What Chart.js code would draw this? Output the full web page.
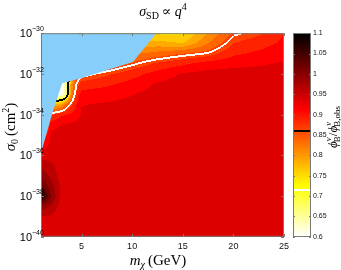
<!DOCTYPE html>
<html>
<head>
<meta charset="utf-8">
<script src="https://cdn.jsdelivr.net/npm/chart.js@4.4.1/dist/chart.umd.min.js"></script>
<style>
  body { margin: 0; background: #fff; }
  #wrap { width: 341px; height: 270px; }
</style>
</head>
<body>
<div id="wrap"><canvas id="plot" width="341" height="270"></canvas></div>
<script>
// grid of the ratio phi_B / phi_B,obs
const massGeV = [1, 2, 3, 3.5, 4, 4.5, 5, 7.5, 10, 12.5, 15, 17.5, 20, 22.5, 25];
const logSigma = [-30, -30.5, -31, -31.5, -32, -32.5, -33, -33.5, -34, -34.5, -35,
                  -35.5, -36, -36.5, -37, -37.5, -38, -38.5, -39, -39.5, -40];
const ratio = [
  [0.60, 0.60, 0.60, 0.62, 0.66, 0.70, 0.72, 0.74, 0.75, 0.745, 0.745, 0.80, 0.855, 0.87, 0.90],
  [0.60, 0.60, 0.60, 0.62, 0.68, 0.72, 0.75, 0.77, 0.78, 0.785, 0.775, 0.825, 0.875, 0.89, 0.905],
  [0.60, 0.60, 0.60, 0.62, 0.70, 0.75, 0.78, 0.80, 0.82, 0.835, 0.85, 0.862, 0.895, 0.905, 0.915],
  [0.60, 0.60, 0.60, 0.62, 0.73, 0.78, 0.81, 0.83, 0.855, 0.88, 0.895, 0.912, 0.918, 0.922, 0.928],
  [0.60, 0.60, 0.58, 0.64, 0.76, 0.84, 0.85, 0.87, 0.89, 0.91, 0.928, 0.933, 0.935, 0.935, 0.935],
  [0.60, 0.60, 0.58, 0.66, 0.80, 0.86, 0.885, 0.895, 0.91, 0.928, 0.935, 0.935, 0.935, 0.935, 0.935],
  [0.60, 0.60, 0.60, 0.66, 0.82, 0.88, 0.91, 0.915, 0.924, 0.935, 0.935, 0.935, 0.935, 0.935, 0.935],
  [0.62, 0.78, 0.79, 0.84, 0.87, 0.90, 0.924, 0.928, 0.932, 0.935, 0.935, 0.935, 0.935, 0.935, 0.935],
  [0.70, 0.87, 0.895, 0.90, 0.905, 0.915, 0.928, 0.935, 0.935, 0.935, 0.935, 0.935, 0.935, 0.935, 0.935],
  [0.80, 0.915, 0.925, 0.928, 0.93, 0.932, 0.935, 0.935, 0.935, 0.935, 0.935, 0.935, 0.935, 0.935, 0.935],
  [0.86, 0.93, 0.935, 0.935, 0.935, 0.935, 0.935, 0.935, 0.935, 0.935, 0.935, 0.935, 0.935, 0.935, 0.935],
  [0.905, 0.935, 0.935, 0.935, 0.935, 0.935, 0.935, 0.935, 0.935, 0.935, 0.935, 0.935, 0.935, 0.935, 0.935],
  [0.94, 0.936, 0.935, 0.935, 0.935, 0.935, 0.935, 0.935, 0.935, 0.935, 0.935, 0.935, 0.935, 0.935, 0.935],
  [0.966, 0.956, 0.935, 0.935, 0.935, 0.935, 0.935, 0.935, 0.935, 0.935, 0.935, 0.935, 0.935, 0.935, 0.935],
  [0.994, 0.968, 0.937, 0.935, 0.935, 0.935, 0.935, 0.935, 0.935, 0.935, 0.935, 0.935, 0.935, 0.935, 0.935],
  [1.025, 0.985, 0.945, 0.935, 0.935, 0.935, 0.935, 0.935, 0.935, 0.935, 0.935, 0.935, 0.935, 0.935, 0.935],
  [1.09, 1.00, 0.945, 0.935, 0.935, 0.935, 0.935, 0.935, 0.935, 0.935, 0.935, 0.935, 0.935, 0.935, 0.935],
  [0.99, 0.97, 0.94, 0.935, 0.935, 0.935, 0.935, 0.935, 0.935, 0.935, 0.935, 0.935, 0.935, 0.935, 0.935],
  [0.95, 0.947, 0.936, 0.935, 0.935, 0.935, 0.935, 0.935, 0.935, 0.935, 0.935, 0.935, 0.935, 0.935, 0.935],
  [0.937, 0.936, 0.935, 0.935, 0.935, 0.935, 0.935, 0.935, 0.935, 0.935, 0.935, 0.935, 0.935, 0.935, 0.935],
  [0.935, 0.935, 0.935, 0.935, 0.935, 0.935, 0.935, 0.935, 0.935, 0.935, 0.935, 0.935, 0.935, 0.935, 0.935]
];

// edge of the excluded (blue) region
const excludedMass = [1, 2.16, 3.09, 4.87, 10.08, 12.4];
const excludedLogSigma = [-35.88, -33.86, -32.46, -32.22, -31.42, -30];

const contourWhite = 0.86;
const contourBlack = 0.715;

const xTicks = [5, 10, 15, 20, 25];
const yTicks = [-40, -38, -36, -34, -32, -30];
const cbTicks = [0.6, 0.65, 0.7, 0.75, 0.8, 0.85, 0.9, 0.95, 1, 1.05, 1.1];

const cMin = 0.6, cMax = 1.1, bandStep = 0.025;
const serif = '"Liberation Serif", "DejaVu Serif", serif';
const sans = '"Liberation Sans", Arial, sans-serif';

// reversed "hot" colour map
function hotRev(v) {
  const t = Math.min(1, Math.max(0, (cMax - v) / (cMax - cMin)));
  const cl = a => Math.min(1, Math.max(0, a));
  return [
    Math.round(255 * cl(t / 0.375)),
    Math.round(255 * cl((t - 0.375) / 0.375)),
    Math.round(255 * cl((t - 0.75) / 0.25))
  ];
}

function bandColor(v) {
  if (v < cMin) return [255, 255, 255];
  const k = Math.floor((v - cMin) / bandStep);
  return hotRev(cMin + (k + 0.5) * bandStep);
}

function interp(x, e) {
  let i = 0;
  while (i < massGeV.length - 2 && x > massGeV[i + 1]) i++;
  let j = 0;
  while (j < logSigma.length - 2 && e < logSigma[j + 1]) j++;
  const fx = Math.min(1, Math.max(0, (x - massGeV[i]) / (massGeV[i + 1] - massGeV[i])));
  const fy = Math.min(1, Math.max(0, (e - logSigma[j]) / (logSigma[j + 1] - logSigma[j])));
  const a = ratio[j][i], b = ratio[j][i + 1], c = ratio[j + 1][i], d = ratio[j + 1][i + 1];
  return a * (1 - fx) * (1 - fy) + b * fx * (1 - fy) + c * (1 - fx) * fy + d * fx * fy;
}

function rich(ctx, parts, x, y, rotate) {
  ctx.save();
  ctx.translate(x, y);
  if (rotate) ctx.rotate(-Math.PI / 2);
  let w = 0;
  parts.forEach(p => { ctx.font = p.f; w += ctx.measureText(p.t).width + (p.gap || 0); });
  let cx = -w / 2;
  ctx.textBaseline = 'alphabetic';
  ctx.textAlign = 'left';
  ctx.fillStyle = '#000';
  parts.forEach(p => {
    ctx.font = p.f;
    ctx.fillText(p.t, cx, p.dy || 0);
    cx += ctx.measureText(p.t).width + (p.gap || 0);
  });
  ctx.restore();
}

const contourPlugin = {
  id: 'contour',
  beforeDatasetsDraw(chart) {
    const { ctx, chartArea: a, scales } = chart;
    const left = Math.round(a.left), top = Math.round(a.top);
    const w = Math.round(a.right) - left, h = Math.round(a.bottom) - top;
    const vals = new Float32Array(w * h);
    for (let py = 0; py < h; py++) {
      const e = scales.y.getValueForPixel(top + py + 0.5);
      for (let px = 0; px < w; px++) {
        const x = scales.x.getValueForPixel(left + px + 0.5);
        vals[py * w + px] = interp(x, e);
      }
    }
    const img = ctx.createImageData(w, h);
    const mark = new Uint8Array(w * h);
    const lv = [contourWhite, contourBlack];
    for (let py = 0; py < h; py++) {
      for (let px = 0; px < w; px++) {
        const k = py * w + px, v = vals[k];
        const c = bandColor(v);
        img.data[k * 4] = c[0]; img.data[k * 4 + 1] = c[1]; img.data[k * 4 + 2] = c[2]; img.data[k * 4 + 3] = 255;
        lv.forEach((L, li) => {
          const s = v >= L;
          if (px + 1 < w && (vals[k + 1] >= L) !== s) { mark[k] = li + 1; mark[k + 1] = li + 1; }
          if (py + 1 < h && (vals[k + w] >= L) !== s) { mark[k] = li + 1; mark[k + w] = li + 1; }
        });
      }
    }
    for (let k = 0; k < w * h; k++) {
      if (mark[k]) {
        const c = mark[k] === 1 ? 255 : 0;
        img.data[k * 4] = c; img.data[k * 4 + 1] = c; img.data[k * 4 + 2] = c;
      }
    }
    ctx.putImageData(img, left, top);
  },
  afterDraw(chart) {
    const { ctx, chartArea: a, scales } = chart;
    ctx.save();
    // frame and inward ticks
    ctx.strokeStyle = '#7a7a7a';
    ctx.lineWidth = 1;
    ctx.strokeRect(a.left + 0.5, a.top + 0.5, a.right - a.left - 1, a.bottom - a.top - 1);
    ctx.beginPath();
    xTicks.forEach(v => {
      const p = Math.round(scales.x.getPixelForValue(v)) + 0.5;
      ctx.moveTo(p, a.bottom); ctx.lineTo(p, a.bottom - 3);
      ctx.moveTo(p, a.top); ctx.lineTo(p, a.top + 3);
    });
    yTicks.forEach(v => {
      const p = Math.round(scales.y.getPixelForValue(v)) + 0.5;
      ctx.moveTo(a.left, p); ctx.lineTo(a.left + 3, p);
      ctx.moveTo(a.right, p); ctx.lineTo(a.right - 3, p);
    });
    ctx.stroke();

    // y tick labels 10^n
    ctx.fillStyle = '#000';
    yTicks.forEach(v => {
      const p = scales.y.getPixelForValue(v);
      ctx.font = '11px ' + sans;
      ctx.textAlign = 'right';
      ctx.textBaseline = 'alphabetic';
      ctx.fillText('10', 32, p + 4);
      ctx.font = '7px ' + sans;
      ctx.textAlign = 'left';
      ctx.fillText('\u2212' + Math.abs(v), 32, p - 2);
    });

    // colour bar
    const cb = scales.cb;
    const bx = 293, bw = 18;
    const t0 = Math.round(cb.getPixelForValue(cMax)), t1 = Math.round(cb.getPixelForValue(cMin));
    for (let py = t0; py < t1; py++) {
      const c = hotRev(cb.getValueForPixel(py + 0.5));
      ctx.fillStyle = 'rgb(' + c.join(',') + ')';
      ctx.fillRect(bx, py, bw, 1);
    }
    ctx.fillStyle = '#000';
    ctx.fillRect(bx, Math.round(cb.getPixelForValue(contourWhite)) - 1, bw, 2);
    ctx.fillStyle = '#fff';
    ctx.fillRect(bx, Math.round(cb.getPixelForValue(contourBlack)) - 1, bw, 2);
    ctx.strokeStyle = '#7a7a7a';
    ctx.strokeRect(bx + 0.5, t0 + 0.5, bw - 1, t1 - t0 - 1);
    ctx.beginPath();
    cbTicks.forEach(v => {
      const p = Math.round(cb.getPixelForValue(v)) + 0.5;
      ctx.moveTo(bx, p); ctx.lineTo(bx + 2, p);
      ctx.moveTo(bx + bw, p); ctx.lineTo(bx + bw - 2, p);
    });
    ctx.stroke();
    ctx.restore();

    // title and axis labels
    const it = s => 'italic ' + s + 'px ' + serif;
    const rm = s => s + 'px ' + serif;
    rich(ctx, [
      { t: 'σ', f: it(14) }, { t: 'SD', f: rm(10), dy: 3, gap: 3 },
      { t: '∝ ', f: rm(14) }, { t: 'q', f: it(14) }, { t: '4', f: rm(10), dy: -6 }
    ], 163, 16);
    rich(ctx, [
      { t: 'm', f: it(15) }, { t: 'χ', f: it(10), dy: 3, gap: 3 }, { t: '(GeV)', f: rm(15) }
    ], 158, 265);
    rich(ctx, [
      { t: 'σ', f: it(15) }, { t: '0', f: rm(10), dy: 3, gap: 3 }, { t: '(cm', f: rm(15) },
      { t: '2', f: rm(10), dy: -6 }, { t: ')', f: rm(15) }
    ], 15, 127, true);
    rich(ctx, [
      { t: 'ϕ', f: it(13) }, { t: 'ν', f: it(9), dy: -6, gap: -5 }, { t: 'B', f: rm(9), dy: 3 },
      { t: '/', f: rm(13) }, { t: 'ϕ', f: it(13) }, { t: 'ν', f: it(9), dy: -6, gap: -5 },
      { t: 'B,obs', f: rm(9), dy: 3 }
    ], 337, 127, true);
  }
};

const excludedEdge = excludedMass.map((m, i) => ({ x: m, y: excludedLogSigma[i] }));

new Chart(document.getElementById('plot'), {
  type: 'line',
  data: {
    datasets: [{
      data: excludedEdge,
      fill: 'end',
      backgroundColor: '#87cefa',
      borderWidth: 0,
      pointRadius: 0,
      tension: 0
    }]
  },
  options: {
    responsive: false,
    animation: false,
    devicePixelRatio: 1,
    layout: { padding: { top: 22, left: 0, right: 0, bottom: 0 } },
    plugins: { legend: { display: false }, tooltip: { enabled: false } },
    scales: {
      x: {
        type: 'linear', min: 1, max: 25,
        afterBuildTicks: s => { s.ticks = xTicks.map(v => ({ value: v })); },
        afterFit: s => { s.height = 29; },
        grid: { display: false, drawTicks: false },
        border: { display: false },
        ticks: { font: { family: sans, size: 9 }, color: '#111', padding: 4, maxRotation: 0 }
      },
      y: {
        type: 'linear', min: -40, max: -30,
        afterBuildTicks: s => { s.ticks = yTicks.map(v => ({ value: v })); },
        afterFit: s => { s.width = 41; },
        grid: { display: false, drawTicks: false },
        border: { display: false },
        ticks: { display: false }
      },
      cb: {
        type: 'linear', position: 'right', min: cMin, max: cMax,
        afterBuildTicks: s => { s.ticks = cbTicks.map(v => ({ value: v })); },
        afterFit: s => { s.width = 57; },
        grid: { display: false, drawTicks: false },
        border: { display: false },
        ticks: { font: { family: sans, size: 7 }, color: '#111', padding: 29, callback: v => String(v) }
      }
    }
  },
  plugins: [contourPlugin]
});
</script>
</body>
</html>
